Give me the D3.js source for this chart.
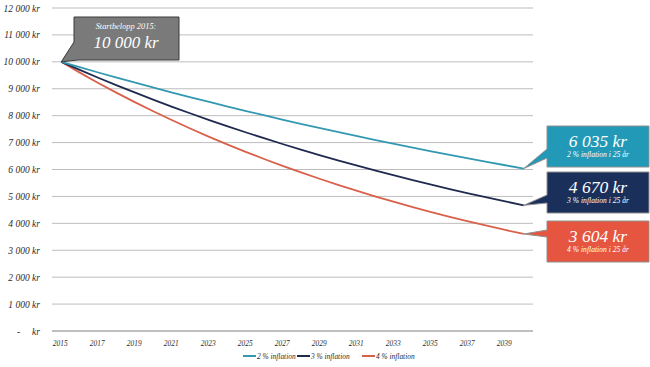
<!DOCTYPE html>
<html>
<head>
<meta charset="utf-8">
<script src="https://cdn.jsdelivr.net/npm/d3@7"></script>
<style>
  body { margin: 0; background: #fff; }
  svg { display: block; font-family: "Liberation Serif", "DejaVu Serif", serif; font-style: italic; }
</style>
</head>
<body>
<svg id="chart" width="650" height="367"></svg>
<script>
// years on the x axis, 2015 - 2040
const years = [2015, 2016, 2017, 2018, 2019, 2020, 2021, 2022, 2023, 2024, 2025, 2026, 2027,
               2028, 2029, 2030, 2031, 2032, 2033, 2034, 2035, 2036, 2037, 2038, 2039, 2040];

// value of 10 000 kr after n years
const infl2 = [10000, 9800, 9604, 9412, 9224, 9039, 8858, 8681, 8508, 8337, 8171, 8007, 7847,
               7690, 7536, 7386, 7238, 7093, 6951, 6812, 6676, 6543, 6412, 6283, 6158, 6035];
const infl3 = [10000, 9700, 9409, 9127, 8853, 8587, 8330, 8080, 7837, 7602, 7374, 7153, 6938,
               6730, 6528, 6333, 6143, 5958, 5780, 5606, 5438, 5275, 5117, 4963, 4814, 4670];
const infl4 = [10000, 9600, 9216, 8847, 8493, 8154, 7828, 7514, 7214, 6925, 6648, 6382, 6127,
               5882, 5647, 5421, 5204, 4996, 4796, 4604, 4420, 4243, 4073, 3911, 3754, 3604];

const seriesNames = ["2 % inflation", "3 % inflation", "4 % inflation"];
const yTicks = [0, 1000, 2000, 3000, 4000, 5000, 6000, 7000, 8000, 9000, 10000, 11000, 12000];
const xTickYears = [2015, 2017, 2019, 2021, 2023, 2025, 2027, 2029, 2031, 2033, 2035, 2037, 2039];

const lineColors = ["#3399b0", "#1f2b4e", "#d9614b"];
const boxColors = ["#229ab7", "#1b2f5b", "#e5553f"];

const svg = d3.select("#chart");

const x = d3.scaleBand().domain(years).range([52, 533]).padding(0);
const y = d3.scaleLinear().domain([0, 12000]).range([331, 8]);
const cx = d => x(d) + x.bandwidth() / 2;

const loc = d3.formatLocale({ decimal: ",", thousands: " ", grouping: [3], currency: ["", " kr"] });
const fmt = loc.format(",.0f");

// grid
svg.append("g")
    .selectAll("line")
    .data(yTicks)
    .join("line")
    .attr("x1", 52).attr("x2", 533)
    .attr("y1", d => y(d)).attr("y2", d => y(d))
    .attr("stroke", d => d === 0 ? "#aaaaaa" : "#bdbdbd")
    .attr("stroke-width", d => d === 0 ? 1.6 : 1);

// y labels
const yl = svg.append("g").attr("font-size", 9.5).attr("fill", "#2b2b2b");
yTicks.forEach(function (t) {
    if (t === 0) {
        yl.append("text").attr("x", 17).attr("y", y(t) + 3.5).text("-");
        yl.append("text").attr("x", 40).attr("y", y(t) + 3.5).attr("text-anchor", "end").text("kr");
    } else {
        yl.append("text").attr("x", 40).attr("y", y(t) + 3.5).attr("text-anchor", "end").text(fmt(t) + " kr");
    }
});

// x labels
svg.append("g")
    .selectAll("text")
    .data(xTickYears)
    .join("text")
    .attr("x", d => cx(d) - 1)
    .attr("y", 346)
    .attr("text-anchor", "middle")
    .attr("font-size", 7.4)
    .attr("fill", "#2b2b2b")
    .text(d => d);

// lines
const allSeries = [infl2, infl3, infl4];
const line = d3.line().x((d, i) => cx(years[i])).y(d => y(d));

// draw 4 % first so 2 % is on top
for (let s = 2; s >= 0; s--) {
    svg.append("path")
        .attr("d", line(allSeries[s]))
        .attr("fill", "none")
        .attr("stroke", lineColors[s])
        .attr("stroke-width", 1.8);
}

// start callout
const startX = cx(years[0]), startY = y(infl2[0]);
svg.append("path")
    .attr("d", `M74,17 H179 V60 H78 L${startX},${startY} L74,42 Z`)
    .attr("fill", "#7a7a7a")
    .attr("stroke", "#3a3a3a")
    .attr("stroke-width", 1);
svg.append("text").attr("x", 126).attr("y", 29).attr("text-anchor", "middle")
    .attr("font-size", 8.4).attr("fill", "#fff").text("Startbelopp " + years[0] + ":");
svg.append("text").attr("x", 126).attr("y", 48).attr("text-anchor", "middle")
    .attr("font-size", 17).attr("fill", "#fff").text(fmt(infl2[0]) + " kr");

// end callouts
const boxTops = [126, 172, 221];
const tails = [[149, 158], [195, 203], [230, 237]];
const endYear = years[years.length - 1];
const spanYears = years.length - 1;

allSeries.forEach(function (s, i) {
    const top = boxTops[i], bot = top + 41;
    const tx = cx(endYear), ty = y(s[s.length - 1]);
    svg.append("path")
        .attr("d", `M547,${top} H649 V${bot} H547 V${tails[i][1]} L${tx},${ty} L547,${tails[i][0]} Z`)
        .attr("fill", boxColors[i])
        .attr("stroke", "#8f8f8f")
        .attr("stroke-width", 1);
    svg.append("text").attr("x", 598).attr("y", top + 21).attr("text-anchor", "middle")
        .attr("font-size", 17.5).attr("fill", "#fff").text(fmt(s[s.length - 1]) + " kr");
    svg.append("text").attr("x", 598).attr("y", top + 31).attr("text-anchor", "middle")
        .attr("font-size", 7.6).attr("fill", "#fff").text(seriesNames[i] + " i " + spanYears + " år");
});

// legend
const legX = [243, 297, 362];
seriesNames.forEach(function (n, i) {
    svg.append("line")
        .attr("x1", legX[i]).attr("x2", legX[i] + 13)
        .attr("y1", 356).attr("y2", 356)
        .attr("stroke", lineColors[i]).attr("stroke-width", 2);
    svg.append("text")
        .attr("x", legX[i] + 14).attr("y", 358.5)
        .attr("font-size", 7.4).attr("fill", "#2b2b2b")
        .text(n);
});
</script>
</body>
</html>
